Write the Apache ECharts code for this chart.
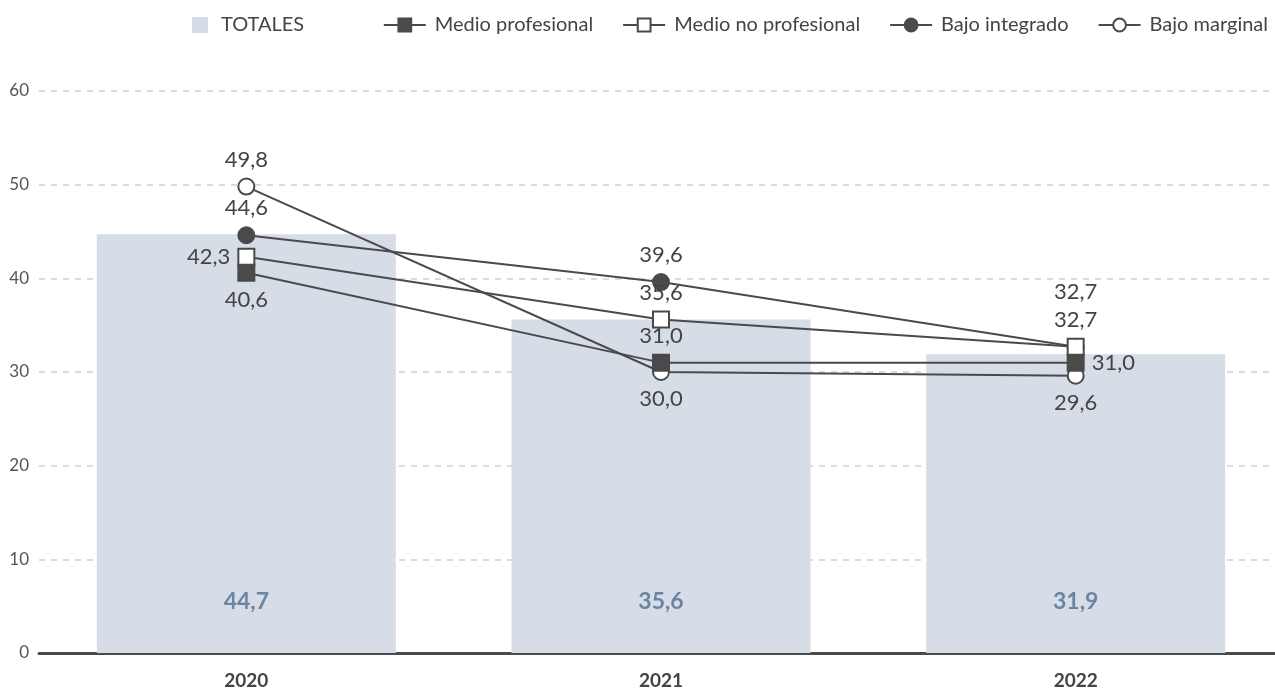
<!DOCTYPE html>
<html>
<head>
<meta charset="utf-8">
<script src="https://cdn.jsdelivr.net/npm/echarts@6/dist/echarts.min.js"></script>
<style>
html,body{margin:0;padding:0;background:#fff;}
#chart{width:1275px;height:692px;}
</style>
</head>
<body>
<div id="chart"></div>
<script>
var categories = ['2020', '2021', '2022'];
var totales = [44.7, 35.6, 31.9];
var medioProfesional = [40.6, 31.0, 31.0];
var medioNoProfesional = [42.3, 35.6, 32.7];
var bajoIntegrado = [44.6, 39.6, 32.7];
var bajoMarginal = [49.8, 30.0, 29.6];
var yTicks = [0, 10, 20, 30, 40, 50, 60];

var FONT = 'Lato';
var dark = '#4a4a4a';
var fmt = function (v) { return v.toFixed(1).replace('.', ','); };

function pts(values, positions, extra) {
  return values.map(function (v, i) {
    var lbl = { position: positions[i] };
    if (extra && extra[i]) { for (var k in extra[i]) lbl[k] = extra[i][k]; }
    return { value: v, label: lbl };
  });
}

var labelBase = {
  show: true,
  color: '#444',
  fontSize: 22,
  fontFamily: FONT,
  distance: 7,
  formatter: function (p) { return fmt(p.value); }
};

function lineSeries(name, data, symbol, filled, z) {
  return {
    name: name,
    type: 'line',
    data: data,
    symbol: symbol,
    symbolSize: 16,
    z: z,
    lineStyle: { color: dark, width: 2 },
    itemStyle: { color: filled ? dark : '#fff', borderColor: dark, borderWidth: 2 },
    label: labelBase,
    emphasis: { disabled: true }
  };
}

var chart = echarts.init(document.getElementById('chart'));
chart.setOption({
  animation: false,
  textStyle: { fontFamily: FONT },
  legend: [
    {
      top: 10, left: 187,
      itemWidth: 16, itemHeight: 16, itemGap: 10,
      textStyle: { color: '#444', fontSize: 20, fontFamily: FONT, padding: [0, 0, 0, 8] },
      data: [{ name: 'TOTALES', icon: 'rect', itemStyle: { color: '#d6dde6' } }]
    },
    {
      top: 10, right: 2,
      itemGap: 29,
      itemWidth: 42,
      itemHeight: 16,
      textStyle: { color: '#444', fontSize: 20, fontFamily: FONT, padding: [0, 0, 0, 4] },
      data: ['Medio profesional', 'Medio no profesional', 'Bajo integrado', 'Bajo marginal']
    }
  ],
  grid: { left: 39, width: 1244, top: 91, bottom: 39, containLabel: false, outerBoundsMode: 'none' },
  xAxis: {
    type: 'category',
    data: categories,
    axisLine: { lineStyle: { color: '#4a4a4a', width: 3 } },
    axisTick: { show: false },
    axisLabel: { color: '#444', fontSize: 19, fontWeight: 'bold', fontFamily: FONT, margin: 18 }
  },
  yAxis: {
    type: 'value',
    min: 0, max: 60, interval: 10,
    axisLine: { show: false },
    axisTick: { show: false },
    splitLine: { lineStyle: { color: '#d0d0d0', type: [6, 6], width: 1.5 } },
    axisLabel: {
      color: '#555', fontSize: 17, fontFamily: FONT, margin: 10,
      formatter: function (v) { return yTicks.indexOf(v) >= 0 ? String(v) : ''; }
    }
  },
  series: [
    {
      name: 'TOTALES',
      type: 'bar',
      data: totales,
      barWidth: 299,
      z: 1,
      itemStyle: { color: '#d6dde6' },
      label: {
        show: true, position: 'insideBottom', distance: 40,
        color: '#6b84a6', fontSize: 23, fontWeight: 'bold', fontFamily: FONT,
        formatter: function (p) { return fmt(p.value); }
      },
      emphasis: { disabled: true }
    },
    lineSeries('Medio profesional', pts(medioProfesional, ['bottom', 'top', 'right']), 'rect', true, 4),
    lineSeries('Medio no profesional', pts(medioNoProfesional, ['left', 'top', 'top']), 'rect', false, 5),
    lineSeries('Bajo integrado', pts(bajoIntegrado, ['top', 'top', 'top'], [null, null, { distance: 35 }]), 'circle', true, 3),
    lineSeries('Bajo marginal', pts(bajoMarginal, ['top', 'bottom', 'bottom']), 'circle', false, 2)
  ]
});
</script>
</body>
</html>
